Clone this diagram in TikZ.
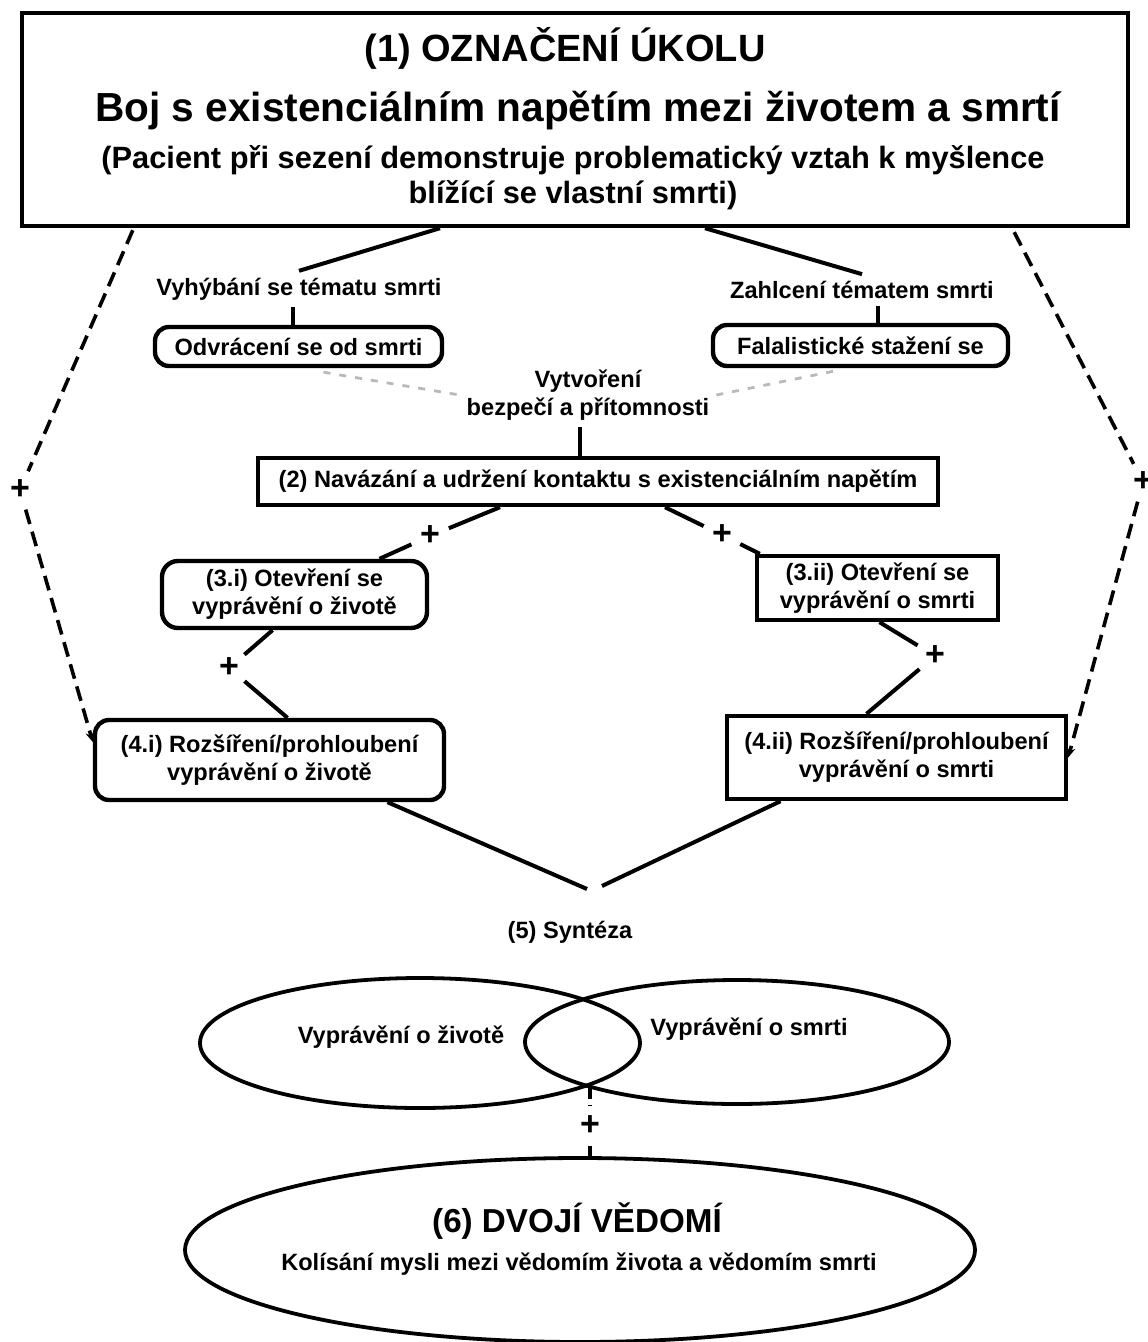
\documentclass[tikz,border=0pt]{standalone}
\usepackage{fontspec}
\setmainfont{Liberation Sans}
\usetikzlibrary{calc,arrows.meta,shapes.geometric}
\tikzset{
	every node/.style={font=\bfseries\fontsize{11.8}{14}\selectfont,align=center},
	framebox/.style={draw,line width=2.2pt,inner sep=0pt},
	roundbox/.style={framebox,rounded corners=7pt},
	plusmark/.style={circle,inner sep=0pt,minimum size=20pt,font=\bfseries\fontsize{17}{17}\selectfont},
	setshape/.style={ellipse,draw,line width=1.9pt,inner sep=0pt},
	conn/.style={line width=2pt},
	jump/.style={line width=1.8pt,dash pattern=on 7.5pt off 4pt,-{Stealth[length=5pt,width=4.5pt]}},
	safeline/.style={line width=1.4pt,gray!55,dash pattern=on 3.5pt off 4.5pt}
}
\begin{document}
\begin{tikzpicture}[x=.5pt,y=-.5pt]
	\useasboundingbox(0,0)rectangle(1147,1342);
	\node[framebox,minimum width=553pt,minimum height=106.5pt](task)at(575,119.5){};
	\node[font=\bfseries\fontsize{19}{23}\selectfont](tasktitle)at(565,48){(1) OZNAČENÍ ÚKOLU};
	\node[font=\bfseries\fontsize{20.3}{24}\selectfont](tasktheme)at(578,111){Boj s existenciálním napětím mezi životem a smrtí};
	\node[font=\bfseries\fontsize{15.4}{17.5}\selectfont](tasknote)at(573,177.5){(Pacient při sezení demonstruje problematický vztah k myšlence\\blížící se vlastní smrti)};
	\node(avoidlbl)at(299,289){Vyhýbání se tématu smrti};
	\node(floodlbl)at(862,290){Zahlcení tématem smrti};
	\node[roundbox,minimum width=143.5pt,minimum height=19.5pt](avoid)at(298.5,346.5){Odvrácení se od smrti};
	\node[roundbox,minimum width=147.5pt,minimum height=20.5pt](doom)at(860.5,345.5){Falalistické stažení se};
	\node(safety)at(588,395){Vytvoření\\bezpečí a přítomnosti};
	\node[framebox,minimum width=340pt,minimum height=23.5pt](contact)at(598,481.5){(2) Navázání a udržení kontaktu s existenciálním napětím};
	\node[roundbox,rounded corners=8pt,minimum width=132.5pt,minimum height=33.5pt](life3)at(294.5,594.5){(3.i) Otevření se\\vyprávění o životě};
	\node[framebox,minimum width=120.5pt,minimum height=32pt](death3)at(877.5,588){(3.ii) Otevření se\\vyprávění o smrti};
	\node[roundbox,minimum width=174.5pt,minimum height=40pt](life4)at(269.5,760){(4.i) Rozšíření/prohloubení\\vyprávění o životě};
	\node[framebox,minimum width=169.5pt,minimum height=41.5pt](death4)at(896.5,757.5){(4.ii) Rozšíření/prohloubení\\vyprávění o smrti};
	\node(synth)at(570,932){(5) Syntéza};
	\node[setshape,minimum width=220pt,minimum height=65pt](lifeset)at(420,1043){};
	\node[setshape,minimum width=212pt,minimum height=62pt](deathset)at(737,1042){};
	\node(lifetext)at(401,1037){Vyprávění o životě};
	\node(deathtext)at(749,1029){Vyprávění o smrti};
	\node[setshape,minimum width=395pt,minimum height=92pt](dual)at(580,1250){};
	\node[font=\bfseries\fontsize{16.6}{20}\selectfont](dualtitle)at(577,1221){(6) DVOJÍ VĚDOMÍ};
	\node(dualtext)at(579,1264){Kolísání mysli mezi vědomím života a vědomím smrti};
	\foreach \n/\x/\y in {p21/430/536,p22/722/535,p31/229/668,p32/935/656,pL/20/490,pR/1143/482,p5/590/1126}{
		\node[plusmark](\n)at(\x,\y){+};
	}
	\coordinate(meet)at(590,1085);
	\coordinate(mergeL)at(587,889);
	\coordinate(mergeR)at(602,886);
	\draw[conn]($(task.south)+(-135,0)$)--(avoidlbl.north);
	\draw[conn]($(task.south)+(130,0)$)--(floodlbl.north);
	\draw[conn]([xshift=-3pt]avoidlbl.south)--([xshift=-3pt]avoidlbl.south|-avoid.north);
	\draw[conn]([xshift=8pt]floodlbl.south)--([xshift=8pt]floodlbl.south|-doom.north);
	\draw[safeline]($(avoid.south)+(25,4)$)--(safety.west);
	\draw[safeline](safety.east)--($(doom.south)+(-22,2)$);
	\draw[conn]([xshift=-4pt]safety.south)--([xshift=-4pt]safety.south|-contact.north);
	\draw[conn]($(contact.south)+(-98,0)$)--(p21)--($(life3.north)+(85,0)$);
	\draw[conn]($(contact.south)+(67,0)$)--(p22)--($(death3.north west)+(5,0)$);
	\draw[conn]($(life3.south)+(-22,0)$)--(p31)--($(life4.north)+(18,0)$);
	\draw[conn]($(death3.south)+(2,0)$)--(p32)--($(death4.north)+(-30,0)$);
	\draw[conn]($(life4.south)+(118,0)$)--(mergeL);
	\draw[conn]($(death4.south)+(-116,0)$)--(mergeR);
	\draw[jump]($(task.south west)+(113,2)$)--(pL)--($(life4.west)+(0,-18)$);
	\draw[jump]($(task.south east)+(-116,4)$)--(pR)--(death4.east);
	\draw[line width=1.9pt,dash pattern=on 7pt off 3pt](meet)--(p5)--(p5|-dual.north);
\end{tikzpicture}
\end{document}
